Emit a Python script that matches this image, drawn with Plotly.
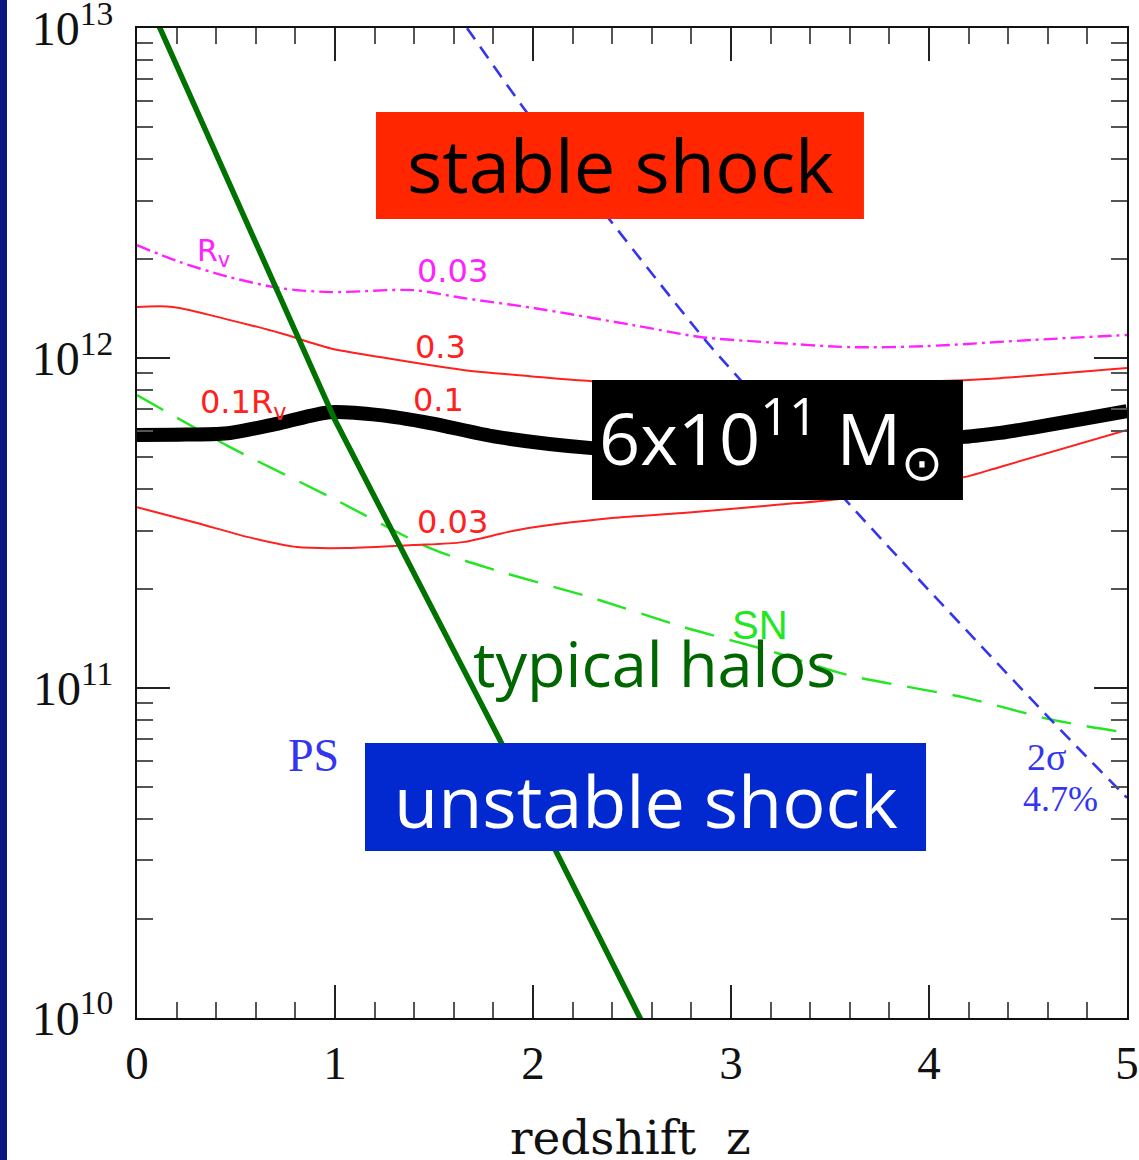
import plotly.graph_objects as go

# ---------------- data (redshift z, log10 M [Msun]) ----------------
z_typical = [0.0, 1.0, 1.833, 2.6]
logM_typical = [13.156, 11.812, 10.842, 9.929]

z_2sigma = [1.60, 1.667, 1.960, 2.389, 2.869, 3.035, 3.601, 4.616, 4.975, 5.0]
logM_2sigma = [13.057, 13.0, 12.752, 12.418, 12.055, 11.942, 11.555, 10.903, 10.682, 10.667]

z_rv = [0.0, 0.217, 0.470, 0.722, 0.975, 1.394, 1.646, 2.0, 2.505, 2.843, 3.182, 3.606, 3.975, 4.525, 5.0]
logM_rv003 = [12.342, 12.291, 12.245, 12.212, 12.200, 12.206, 12.182, 12.152, 12.100, 12.064, 12.048, 12.033, 12.036, 12.055, 12.070]

z_r03 = [0.0, 0.182, 0.470, 0.722, 0.975, 1.227, 1.646, 1.985, 2.298, 3.096, 3.854, 4.177, 4.359, 5.0]
logM_r03 = [12.155, 12.155, 12.115, 12.076, 12.030, 12.003, 11.964, 11.945, 11.930, 11.921, 11.927, 11.933, 11.939, 11.970]

z_r01 = [0.0, 0.25, 0.470, 0.722, 0.975, 1.227, 1.480, 1.818, 2.298, 2.742, 3.348, 3.854, 4.177, 4.359, 5.0]
logM_r01 = [11.770, 11.771, 11.775, 11.805, 11.838, 11.829, 11.805, 11.763, 11.729, 11.717, 11.723, 11.741, 11.763, 11.775, 11.842]

z_r003 = [0.0, 0.303, 0.556, 0.808, 1.061, 1.394, 1.646, 1.924, 2.399, 2.758, 3.232, 3.586, 4.177, 4.359, 5.0]
logM_r003 = [11.548, 11.500, 11.458, 11.427, 11.424, 11.433, 11.442, 11.479, 11.515, 11.530, 11.555, 11.576, 11.639, 11.670, 11.782]

z_sn = [0.0, 0.470, 0.975, 1.480, 1.803, 2.283, 2.758, 3.232, 3.591, 4.187, 4.626, 5.0]
logM_sn = [11.888, 11.730, 11.579, 11.424, 11.358, 11.276, 11.185, 11.106, 11.039, 10.970, 10.903, 10.864]

z_crit = [0.0, 0.25, 0.470, 0.722, 0.975, 1.227, 1.480, 1.818, 2.298, 2.742, 3.348, 3.854, 4.177, 4.359, 5.0]
logM_crit = [11.767, 11.768, 11.773, 11.803, 11.836, 11.827, 11.803, 11.761, 11.727, 11.715, 11.721, 11.739, 11.761, 11.773, 11.839]

y_tickvals = [1e10, 1e11, 1e12, 1e13]
y_ticktext = ["10<sup>10</sup>", "10<sup>11</sup>", "10<sup>12</sup>", "10<sup>13</sup>"]
y_minor = [m * 10 ** e for e in (10, 11, 12) for m in range(2, 10)]
x_tickvals = [0, 1, 2, 3, 4, 5]
x_ticktext = ["0", "1", "2", "3", "4", "5"]


def M(logs):
    return [10 ** v for v in logs]


fig = go.Figure()

def add_line(z, lm, color, width, dash="solid", shape="spline"):
    fig.add_trace(go.Scatter(x=z, y=M(lm), mode="lines",
                             line=dict(color=color, width=width, dash=dash, shape=shape, smoothing=0.8),
                             hoverinfo="skip"))

add_line(z_sn, logM_sn, "#22E622", 2.4, dash="30px,16px")
add_line(z_rv, logM_rv003, "#FF22FF", 2.4, dash="14px,5px,3px,5px")
add_line(z_r03, logM_r03, "#FF2020", 2)
add_line(z_r01, logM_r01, "#FF2020", 2)
add_line(z_r003, logM_r003, "#FF2020", 2)
add_line(z_2sigma, logM_2sigma, "#3535F0", 2.6, dash="14px,9px")
add_line(z_crit, logM_crit, "#000000", 14)
add_line(z_typical, logM_typical, "#007200", 5.5, shape="linear")

# ---------------- boxes (paper coords) ----------------
shapes = [
    dict(type="rect", xref="paper", yref="paper", x0=-0.3, x1=(7 - 137) / 990, y0=-0.3, y1=1.2,
         fillcolor="#0A1780", line=dict(width=0), layer="below"),
    dict(type="rect", xref="paper", yref="paper", x0=0.2414, x1=0.7343, y0=0.8071, y1=0.9152,
         fillcolor="#FF2600", line=dict(width=0), layer="above"),
    dict(type="rect", xref="paper", yref="paper", x0=0.4596, x1=0.8343, y0=0.5232, y1=0.6444,
         fillcolor="#000000", line=dict(width=0), layer="above"),
    dict(type="rect", xref="paper", yref="paper", x0=0.2303, x1=0.7970, y0=0.1687, y1=0.2778,
         fillcolor="#0228D0", line=dict(width=0), layer="above"),
]

sans = "DejaVu Sans"
annots = [
    dict(x=0.384, y=12.321, text="R<sub>v</sub>", font=dict(family=sans, size=30, color="#FF22FF")),
    dict(x=1.591, y=12.264, text="0.03", font=dict(family=sans, size=32, color="#FF22FF")),
    dict(x=1.535, y=12.033, text="0.3", font=dict(family=sans, size=32, color="#FF2020")),
    dict(x=0.535, y=11.861, text="0.1R<sub>v</sub>", font=dict(family=sans, size=32, color="#FF2020")),
    dict(x=1.525, y=11.873, text="0.1", font=dict(family=sans, size=32, color="#FF2020")),
    dict(x=1.591, y=11.503, text="0.03", font=dict(family=sans, size=32, color="#FF2020")),
    dict(x=3.146, y=11.191, text="SN", font=dict(family="Liberation Sans", size=40, color="#22E622")),
    dict(x=0.889, y=10.794, text="PS", font=dict(family="Liberation Serif", size=46, color="#3535F0")),
    dict(x=4.591, y=10.791, text="2σ", font=dict(family="Liberation Serif", size=38, color="#3535F0")),
    dict(x=4.662, y=10.664, text="4.7%", font=dict(family="Liberation Serif", size=36, color="#3535F0")),
    dict(x=2.616, y=11.076, text="typical halos", font=dict(family="Open Sans", size=63, color="#006600")),
    dict(xref="paper", yref="paper", x=0.4879, y=0.8625, text="stable shock",
         font=dict(family="Open Sans", size=74, color="#000000")),
    dict(xref="paper", yref="paper", x=0.6404, y=0.5859, text="6x10<sup>11</sup> M<sub>⊙</sub>",
         font=dict(family="Open Sans", size=72, color="#FFFFFF")),
    dict(xref="paper", yref="paper", x=0.5141, y=0.2202, text="unstable shock",
         font=dict(family="Open Sans", size=72, color="#FFFFFF")),
    dict(xref="paper", yref="paper", x=0.4985, y=-0.121, text="redshift\u00a0\u00a0z",
         font=dict(family="DejaVu Serif", size=47, color="#111")),
]
for a in annots:
    a.setdefault("xref", "x")
    a.setdefault("yref", "y")
    a.update(showarrow=False, xanchor="center", yanchor="middle")

fig.update_layout(
    width=1139, height=1160,
    margin=dict(l=137, r=12, t=28, b=142),
    plot_bgcolor="white", paper_bgcolor="white",
    showlegend=False,
    shapes=shapes, annotations=annots,
)

fig.update_xaxes(
    range=[0, 5], showgrid=False, zeroline=False, automargin=False,
    showline=True, linecolor="#111", linewidth=2, mirror="ticks",
    ticks="inside", ticklen=33, tickwidth=2, tickcolor="#222",
    tickmode="array", tickvals=x_tickvals, ticktext=x_ticktext,
    minor=dict(dtick=0.2, tick0=0, ticks="inside", ticklen=16, tickwidth=2, tickcolor="#555", showgrid=False),
    tickfont=dict(family="Liberation Serif", size=47, color="#111"),
    ticklabelstandoff=3, ticklabeloverflow="allow",
)
fig.update_yaxes(
    type="log", range=[9.9995, 13.0005], showgrid=False, zeroline=False, automargin=False,
    showline=True, linecolor="#111", linewidth=2, mirror="ticks",
    ticks="inside", ticklen=33, tickwidth=2, tickcolor="#222",
    tickmode="array", tickvals=y_tickvals, ticktext=y_ticktext,
    minor=dict(tickmode="array", tickvals=y_minor, ticks="inside", ticklen=16, tickwidth=2,
               tickcolor="#555", showgrid=False),
    tickfont=dict(family="Liberation Serif", size=48, color="#111"),
    ticklabelstandoff=12, ticklabeloverflow="allow",
)

fig.write_html("out.html", config={"displayModeBar": False},
               post_script="document.body.style.margin='0px';document.body.style.padding='0px';")
